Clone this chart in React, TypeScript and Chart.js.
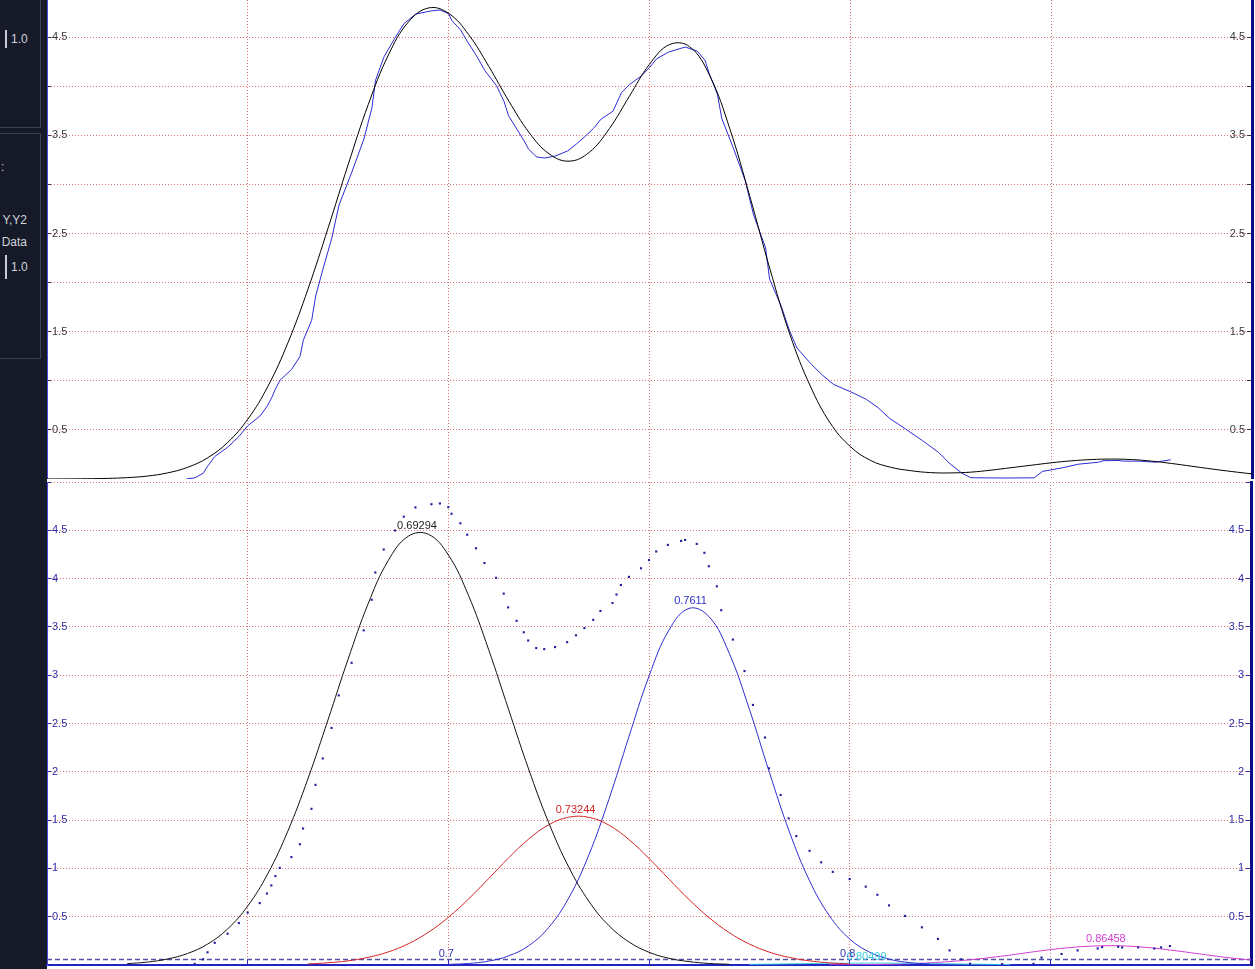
import React, { useEffect, useRef } from "react";
import { Chart, registerables } from "chart.js";

Chart.register(...registerables);

const FONT = "'Liberation Sans', Arial, Helvetica, sans-serif";
const N = null;

// ---- axes ----
const X_MIN = 0.6;
const X_MAX = 0.9;
const X_STEP = 0.05;
const X_AXIS_LABELS = [0.7, 0.8];
const TOP_Y_MAX = 4.88;
const BOTTOM_Y_MAX = 5;
const Y_STEP = 0.5;

// ---- sample positions for the fitted curves ----
const xGrid = [
  0.6, 0.605, 0.61, 0.615, 0.62, 0.625, 0.63, 0.635, 0.64, 0.645,
  0.65, 0.655, 0.66, 0.665, 0.67, 0.675, 0.68, 0.685, 0.69, 0.695,
  0.7, 0.705, 0.71, 0.715, 0.72, 0.725, 0.73, 0.735, 0.74, 0.745,
  0.75, 0.755, 0.76, 0.765, 0.77, 0.775, 0.78, 0.785, 0.79, 0.795,
  0.8, 0.805, 0.81, 0.815, 0.82, 0.825, 0.83, 0.835, 0.84, 0.845,
  0.85, 0.855, 0.86, 0.865, 0.87, 0.875, 0.88, 0.885, 0.89, 0.895,
  0.9,
];

// total fit (top panel, black)
const fitCurve = [
  0.000, 0.001, 0.003, 0.006, 0.014, 0.030, 0.062, 0.119, 0.216, 0.373,
  0.610, 0.944, 1.390, 1.937, 2.559, 3.206, 3.817, 4.320, 4.657, 4.799,
  4.744, 4.526, 4.203, 3.849, 3.531, 3.313, 3.238, 3.328, 3.569, 3.900,
  4.225, 4.426, 4.404, 4.109, 3.568, 2.876, 2.137, 1.467, 0.950, 0.570,
  0.330, 0.190, 0.120, 0.085, 0.065, 0.062, 0.070, 0.090, 0.115, 0.140,
  0.165, 0.185, 0.198, 0.203, 0.198, 0.182, 0.158, 0.130, 0.102, 0.076,
  0.052,
];

// component peaks (bottom panel)
const peakBlack = [
  N, N, N, N, 0.014, 0.030, 0.062, 0.119, 0.216, 0.373,
  0.610, 0.944, 1.385, 1.926, 2.536, 3.163, 3.738, 4.185, 4.438, 4.459,
  4.245, 3.828, 3.270, 2.647, 2.029, 1.474, 1.014, 0.661, 0.408, 0.239,
  0.132, 0.069, 0.035, 0.016, 0.007, N, N, N, N, N,
  N, N, N, N, N, N, N, N, N, N,
  N, N, N, N, N, N, N, N, N, N,
  N,
];
const peakRed = [
  N, N, N, N, N, N, N, N, N, N,
  N, N, N, 0.011, 0.023, 0.043, 0.079, 0.135, 0.219, 0.338,
  0.493, 0.682, 0.893, 1.108, 1.303, 1.451, 1.530, 1.529, 1.448, 1.298,
  1.103, 0.888, 0.677, 0.489, 0.335, 0.217, 0.133, 0.078, 0.043, 0.022,
  0.011, N, N, N, N, N, N, N, N, N,
  N, N, N, N, N, N, N, N, N, N,
  N,
];
const peakBlue = [
  N, N, N, N, N, N, N, N, N, N,
  N, N, N, N, N, N, N, N, N, N,
  0.006, 0.016, 0.040, 0.094, 0.199, 0.388, 0.694, 1.138, 1.713, 2.363,
  2.990, 3.469, 3.692, 3.604, 3.226, 2.649, 1.994, 1.377, 0.872, 0.507,
  0.270, 0.132, 0.059, 0.024, 0.009, N, N, N, N, N,
  N, N, N, N, N, N, N, N, N, N,
  N,
];
const peakCyan = [
  N, N, N, N, N, N, N, N, N, N,
  N, N, N, N, N, N, N, N, N, N,
  N, N, N, N, N, N, N, N, N, N,
  N, N, N, N, N, 0.007, 0.009, 0.012, 0.015, 0.018,
  0.019, 0.020, 0.019, 0.018, 0.015, 0.012, 0.009, 0.007, 0.004, N,
  N, N, N, N, N, N, N, N, N, N,
  N,
];
const peakMagenta = [
  N, N, N, N, N, N, N, N, N, N,
  N, N, N, N, N, N, N, N, N, N,
  N, N, N, N, N, N, N, N, N, N,
  N, N, N, N, N, N, N, N, N, 0.001,
  0.002, 0.004, 0.008, 0.014, 0.023, 0.036, 0.054, 0.077, 0.103, 0.132,
  0.159, 0.181, 0.195, 0.200, 0.194, 0.178, 0.154, 0.127, 0.099, 0.073,
  0.051,
];

const peakCenters = [0.69294, 0.73244, 0.7611, 0.80499, 0.86458];
const peakHeights = [4.48, 1.54, 3.7, 0.02, 0.2];
const peakColors = ["#1c1c1c", "#d42424", "#2e2ec8", "#3ccbe0", "#d23cd2"];
const baselineLevel = 0.056;

// measured data (top: line, bottom: dots)
const dataX = [
  0.6347, 0.6368, 0.6389, 0.6400, 0.6418, 0.6450, 0.6478, 0.6500, 0.6530, 0.6548,
  0.6559, 0.6569, 0.6580, 0.6609, 0.6630, 0.6638, 0.6659, 0.6669, 0.6687, 0.6709,
  0.6727, 0.6759, 0.6789, 0.6809, 0.6818, 0.6839, 0.6867, 0.6889, 0.6918, 0.6958,
  0.6979, 0.7000, 0.7008, 0.7030, 0.7047, 0.7069, 0.7090, 0.7119, 0.7138, 0.7149,
  0.7170, 0.7188, 0.7199, 0.7219, 0.7239, 0.7266, 0.7296, 0.7318, 0.7339, 0.7361,
  0.7379, 0.7409, 0.7419, 0.7430, 0.7450, 0.7480, 0.7500, 0.7518, 0.7547, 0.7580,
  0.7590, 0.7619, 0.7638, 0.7649, 0.7669, 0.7680, 0.7709, 0.7738, 0.7759, 0.7789,
  0.7799, 0.7828, 0.7848, 0.7867, 0.7900, 0.7929, 0.7958, 0.8000, 0.8040, 0.8069,
  0.8098, 0.8138, 0.8180, 0.8220, 0.8249, 0.8278, 0.8300, 0.8380, 0.8458, 0.8478,
  0.8528, 0.8568, 0.8618, 0.8629, 0.8669, 0.8679, 0.8719, 0.8759, 0.8776, 0.8798,
];
const dataY = [
  0.000, 0.012, 0.059, 0.131, 0.230, 0.324, 0.434, 0.543, 0.641, 0.740,
  0.824, 0.920, 1.005, 1.117, 1.250, 1.413, 1.617, 1.865, 2.138, 2.454,
  2.791, 3.128, 3.464, 3.781, 4.063, 4.301, 4.498, 4.641, 4.737, 4.770,
  4.778, 4.740, 4.671, 4.573, 4.454, 4.314, 4.161, 4.008, 3.845, 3.702,
  3.563, 3.444, 3.359, 3.281, 3.270, 3.291, 3.342, 3.413, 3.488, 3.573,
  3.665, 3.747, 3.835, 3.934, 4.018, 4.107, 4.192, 4.281, 4.349, 4.390,
  4.400, 4.359, 4.267, 4.128, 3.920, 3.673, 3.369, 3.043, 2.692, 2.355,
  2.036, 1.760, 1.518, 1.335, 1.182, 1.063, 0.964, 0.890, 0.811, 0.727,
  0.617, 0.508, 0.390, 0.270, 0.151, 0.059, 0.013, 0.010, 0.012, 0.077,
  0.114, 0.151, 0.171, 0.186, 0.189, 0.182, 0.182, 0.171, 0.182, 0.196,
];

// ---- styles ----
const GRID = "#e07474";
const TOP_TICK = "#383838";
const BOTTOM_TICK = "#2c2ca6";

const toPoints = (xs: number[], ys: (number | null)[]) =>
  xs.map((x, i) => ({ x, y: ys[i] })).filter((p) => p.y !== null);

const flatY = (s: any) => {
  s.width = 0;
  s.paddingTop = 0;
  s.paddingBottom = 0;
  s.paddingLeft = 0;
  s.paddingRight = 0;
};
const flatX = (s: any) => {
  s.height = 0;
  s.paddingTop = 0;
  s.paddingBottom = 0;
  s.paddingLeft = 0;
  s.paddingRight = 0;
};

function yAxes(max: number, color: string, showLabel: (v: number) => boolean) {
  const cb = (v: any) => (showLabel(Number(v)) ? String(v) : "");
  return {
    y: {
      type: "linear",
      position: "left",
      min: 0,
      max,
      afterFit: flatY,
      ticks: { stepSize: Y_STEP, includeBounds: false, mirror: true, padding: 5, color, font: { family: FONT, size: 11 }, callback: cb },
      grid: { color: GRID, lineWidth: 1, tickLength: -4, tickColor: color, drawTicks: true },
      border: { display: true, color: "#4a4ad2", width: 1, dash: [1, 2] },
    },
    y2: {
      type: "linear",
      position: "right",
      min: 0,
      max,
      afterFit: flatY,
      ticks: { stepSize: Y_STEP, includeBounds: false, mirror: true, padding: -7, color, font: { family: FONT, size: 11 }, callback: cb },
      grid: { drawOnChartArea: false, tickLength: -5, tickColor: color, drawTicks: true },
      border: { display: true, color: "#0c0c84", width: 3 },
    },
  };
}

const peakLabelPlugin = {
  id: "peakLabels",
  afterDatasetsDraw(chart: any) {
    const { ctx, scales } = chart;
    const x = scales.x;
    const y = scales.y;
    ctx.save();
    ctx.font = `11px ${FONT}`;
    ctx.textAlign = "center";
    ctx.textBaseline = "bottom";
    peakCenters.forEach((c, i) => {
      ctx.fillStyle = peakColors[i];
      ctx.fillText(String(c), x.getPixelForValue(c) - 3, y.getPixelForValue(peakHeights[i]) - 1);
    });
    ctx.textBaseline = "alphabetic";
    ctx.fillStyle = "#3434b4";
    X_AXIS_LABELS.forEach((v) => {
      ctx.fillText(String(v), x.getPixelForValue(v) - 2, y.bottom - 8);
    });
    ctx.restore();
  },
};

function topConfig(): any {
  return {
    type: "line",
    data: {
      datasets: [
        { label: "Fit", data: toPoints(xGrid, fitCurve), borderColor: "#000000", borderWidth: 1, pointRadius: 0, tension: 0.4, fill: false },
        { label: "Data", data: toPoints(dataX, dataY), borderColor: "#2a2ad6", borderWidth: 1, pointRadius: 0, tension: 0, fill: false },
      ],
    },
    options: {
      animation: false,
      responsive: false,
      maintainAspectRatio: false,
      events: [],
      layout: { padding: { left: 7, right: 3, top: 0, bottom: 0 } },
      plugins: { legend: { display: false }, tooltip: { enabled: false } },
      scales: {
        x: {
          type: "linear",
          min: X_MIN,
          max: X_MAX,
          afterFit: flatX,
          ticks: { display: false, stepSize: X_STEP },
          grid: { color: GRID, drawTicks: false },
          border: { display: false, dash: [1, 2] },
        },
        ...yAxes(TOP_Y_MAX, TOP_TICK, (v) => Math.round(v * 2) % 2 === 1),
      },
    },
  };
}

function bottomConfig(): any {
  const comp = (label: string, ys: (number | null)[], color: string) => ({
    label, data: toPoints(xGrid, ys), borderColor: color, borderWidth: 1, pointRadius: 0, tension: 0.4, fill: false,
  });
  return {
    type: "line",
    data: {
      datasets: [
        {
          label: "Data", data: toPoints(dataX, dataY), showLine: false, pointRadius: 1.5, pointStyle: "rect",
          pointBackgroundColor: "#1e1e9e", pointBorderWidth: 0, borderColor: "#1e1e9e",
        },
        comp("0.69294", peakBlack, "#111111"),
        comp("0.73244", peakRed, "#d42424"),
        comp("0.7611", peakBlue, "#2e2ed0"),
        comp("0.80499", peakCyan, "#36c8e0"),
        comp("0.86458", peakMagenta, "#d23cd2"),
        {
          label: "Baseline",
          data: [{ x: X_MIN, y: baselineLevel }, { x: X_MAX, y: baselineLevel }],
          borderColor: "#5252a8", borderWidth: 1.5, borderDash: [5, 3], pointRadius: 0, fill: false,
        },
      ],
    },
    options: {
      animation: false,
      responsive: false,
      maintainAspectRatio: false,
      events: [],
      layout: { padding: { left: 7, right: 3, top: 0, bottom: 1 } },
      plugins: { legend: { display: false }, tooltip: { enabled: false } },
      scales: {
        x: {
          type: "linear",
          min: X_MIN,
          max: X_MAX,
          afterFit: flatX,
          ticks: { display: false, stepSize: X_STEP },
          grid: { color: GRID, drawTicks: true, tickLength: -6, tickColor: "#2424c0" },
          border: { display: true, color: "#2424c0", width: 2, dash: [1, 2] },
        },
        ...yAxes(BOTTOM_Y_MAX, BOTTOM_TICK, (v) => v > 0 && v < 5),
      },
    },
    plugins: [peakLabelPlugin],
  };
}

function ChartCanvas({ makeConfig, left, top, width, height }: any) {
  const ref = useRef<HTMLCanvasElement | null>(null);
  useEffect(() => {
    if (!ref.current) return;
    const chart = new Chart(ref.current, makeConfig());
    return () => chart.destroy();
  }, [makeConfig]);
  return (
    <canvas
      ref={ref}
      width={width}
      height={height}
      style={{ position: "absolute", left, top, width, height, display: "block" }}
    />
  );
}

function Sidebar() {
  const txt: React.CSSProperties = { position: "absolute", lineHeight: "14px", fontSize: 12, color: "#d2d4da", fontFamily: FONT };
  return (
    <div style={{ position: "absolute", left: 0, top: 0, width: 47, height: 969, background: "#151928", overflow: "hidden" }}>
      <div style={{ position: "absolute", left: -6, top: -6, width: 47, height: 134, border: "1px solid #3c4153", boxSizing: "border-box" }} />
      <div style={{ position: "absolute", left: 5, top: 30, width: 2, height: 18, background: "#c9cbd2" }} />
      <div style={{ ...txt, left: 11, top: 32 }}>1.0</div>
      <div style={{ position: "absolute", left: -6, top: 133, width: 47, height: 226, border: "1px solid #3c4153", boxSizing: "border-box" }} />
      <div style={{ ...txt, left: 1, top: 160 }}>:</div>
      <div style={{ ...txt, right: 20, top: 213 }}>Y,Y2</div>
      <div style={{ ...txt, right: 20, top: 235 }}>Data</div>
      <div style={{ position: "absolute", left: 5, top: 255, width: 2, height: 24, background: "#c9cbd2" }} />
      <div style={{ ...txt, left: 11, top: 260 }}>1.0</div>
    </div>
  );
}

export default function App() {
  useEffect(() => {
    document.body.style.margin = "0";
  }, []);
  return (
    <div style={{ position: "fixed", left: 0, top: 0, width: 1255, height: 969, background: "#ffffff", overflow: "hidden" }}>
      <Sidebar />
      <ChartCanvas makeConfig={topConfig} left={40} top={0} width={1215} height={479} />
      <ChartCanvas makeConfig={bottomConfig} left={40} top={478} width={1215} height={491} />
    </div>
  );
}
